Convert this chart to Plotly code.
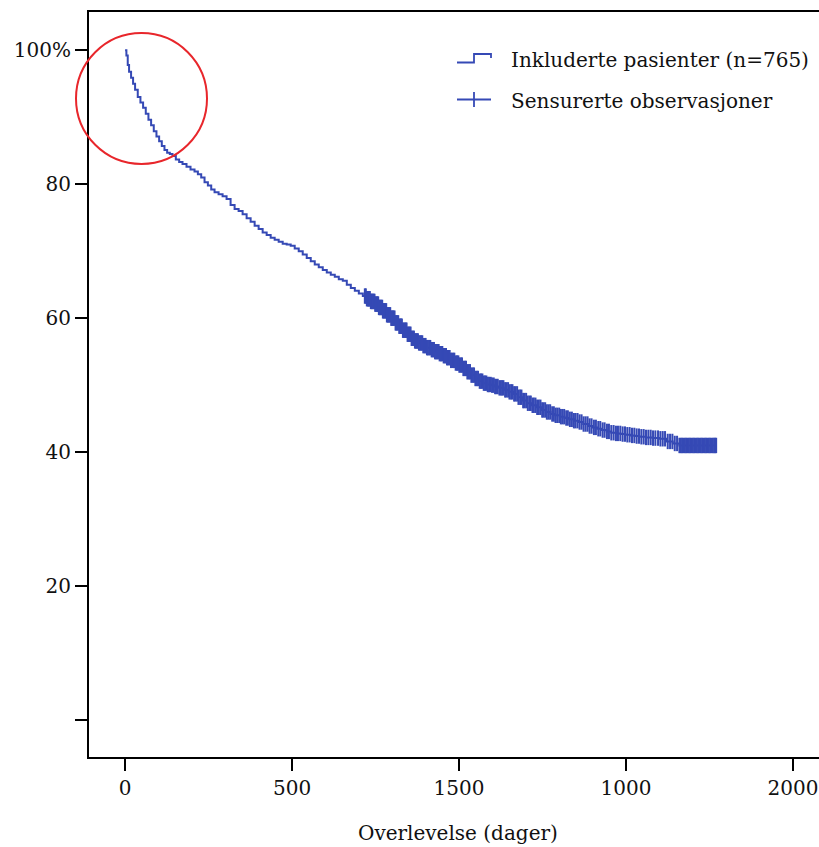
import numpy as np
import plotly.graph_objects as go

# ---- data ----
km_days = [0, 4, 8, 12, 18, 24, 30, 38, 46, 54, 62, 70, 78, 86, 94, 102, 110, 118, 126, 134,
           142, 152, 162, 172, 184, 196, 208, 218, 228, 238, 248, 258, 268, 280, 292, 304, 316,
           328, 340, 352, 364, 376, 388, 400, 412, 424, 436, 448, 460, 472, 484, 496, 508, 520,
           532, 544, 556, 568, 580, 592, 604, 616, 628, 640, 652, 664, 676, 688, 700, 712, 724,
           736, 748, 760, 772, 784, 796, 808, 820, 832, 844, 856, 868, 880, 892, 904, 916, 928,
           940, 952, 964, 976, 988, 1000, 1012, 1024, 1036, 1048, 1060, 1072, 1084, 1096, 1108,
           1120, 1134, 1148, 1162, 1176, 1190, 1204, 1218, 1232, 1246, 1260, 1274, 1288, 1302,
           1316, 1330, 1344, 1358, 1372, 1386, 1400, 1414, 1428, 1442, 1456, 1470, 1484, 1498,
           1512, 1526, 1540, 1560, 1580, 1600, 1620, 1640, 1660, 1772]
km_surv = [100, 99.2, 97.8, 96.8, 95.9, 95.0, 94.1, 93.0, 92.2, 91.4, 90.5, 89.6, 88.8, 87.9,
           87.1, 86.4, 85.7, 85.1, 84.7, 84.5, 84.2, 83.7, 83.3, 83.0, 82.6, 82.2, 81.9, 81.5,
           81.0, 80.3, 79.8, 79.2, 78.8, 78.5, 78.2, 77.8, 76.9, 76.3, 76.0, 75.5, 74.9, 74.4,
           73.8, 73.3, 72.8, 72.4, 72.0, 71.7, 71.4, 71.1, 71.0, 70.8, 70.4, 70.0, 69.5, 69.0,
           68.5, 68.0, 67.6, 67.2, 66.8, 66.5, 66.2, 65.8, 65.6, 65.0, 64.5, 64.1, 63.7, 63.3,
           62.9, 62.5, 62.1, 61.6, 61.1, 60.5, 60.0, 59.3, 58.8, 58.2, 57.6, 57.0, 56.6, 56.3,
           55.9, 55.6, 55.3, 55.0, 54.7, 54.4, 54.1, 53.7, 53.3, 53.0, 52.5, 52.0, 51.5, 51.0,
           50.6, 50.3, 50.1, 50.0, 49.8, 49.6, 49.3, 49.0, 48.7, 48.2, 47.7, 47.3, 47.0, 46.7,
           46.3, 46.0, 45.7, 45.5, 45.3, 45.1, 44.9, 44.7, 44.5, 44.2, 43.9, 43.7, 43.5, 43.3,
           43.1, 42.9, 42.8, 42.7, 42.6, 42.5, 42.4, 42.3, 42.2, 42.1, 42.0, 41.6, 41.3, 41.0,
           41.0]
censor_days = [718, 721, 724, 727, 729, 731, 733, 736, 738, 740, 742, 745, 747, 749, 751, 754,
               756, 758, 760, 763, 765, 768, 770, 772, 774, 777, 779, 782, 784, 787, 789, 792,
               794, 797, 799, 802, 804, 807, 810, 812, 815, 818, 821, 824, 826, 829, 832, 835,
               838, 841, 843, 846, 849, 852, 855, 858, 861, 865, 868, 871, 874, 877, 880, 884,
               887, 890, 893, 897, 900, 904, 907, 911, 914, 918, 921, 925, 928, 932, 935, 939,
               942, 946, 950, 954, 957, 961, 964, 968, 972, 976, 979, 983, 986, 990, 994, 998,
               1001, 1005, 1009, 1013, 1017, 1021, 1025, 1029, 1033, 1037, 1041, 1045, 1049,
               1053, 1057, 1062, 1066, 1070, 1074, 1078, 1082, 1086, 1090, 1095, 1099, 1104,
               1108, 1112, 1116, 1121, 1125, 1129, 1133, 1138, 1142, 1147, 1151, 1156, 1160,
               1165, 1169, 1174, 1178, 1183, 1187, 1192, 1196, 1201, 1206, 1211, 1215, 1220,
               1224, 1229, 1234, 1239, 1244, 1249, 1253, 1258, 1263, 1268, 1273, 1279, 1284,
               1289, 1294, 1300, 1305, 1310, 1315, 1321, 1326, 1332, 1338, 1344, 1349, 1355,
               1361, 1367, 1373, 1379, 1385, 1391, 1397, 1404, 1410, 1417, 1423, 1430, 1436,
               1443, 1449, 1456, 1463, 1470, 1476, 1483, 1490, 1497, 1504, 1511, 1518, 1525,
               1532, 1539, 1546, 1553, 1560, 1567, 1574, 1581, 1588, 1596, 1603, 1610, 1617,
               1625, 1632, 1639, 1646, 1653, 1660, 1664, 1668, 1672, 1676, 1680, 1684, 1688,
               1692, 1696, 1700, 1704, 1708, 1712, 1716, 1720, 1724, 1728, 1732, 1736, 1740,
               1744, 1748, 1752, 1756, 1760, 1764, 1767, 1770]

x_tickvals = [0, 500, 1000, 1500, 2000]
x_ticktext = ["0", "500", "1500", "1000", "2000"]
y_tickvals = [0, 20, 40, 60, 80, 100]
y_ticktext = ["", "20", "40", "60", "80", "100%"]

legend_labels = ["Inkluderte pasienter (n=765)", "Sensurerte observasjoner"]
x_title = "Overlevelse (dager)"

# survival value at each censored time (step lookup on the KM curve)
kd = np.array(km_days)
ks = np.array(km_surv)
idx = np.searchsorted(kd, np.array(censor_days), side="right") - 1
censor_surv = ks[idx]

BLUE = "#3549b5"
FONT = "DejaVu Serif"
FS = 20

fig = go.Figure()
fig.add_trace(go.Scatter(x=km_days, y=km_surv, mode="lines", line_shape="hv",
                         line=dict(color=BLUE, width=2), showlegend=False, hoverinfo="skip"))
fig.add_trace(go.Scatter(x=censor_days, y=censor_surv, mode="markers",
                         marker=dict(symbol="line-ns", size=11, line=dict(color=BLUE, width=2)),
                         showlegend=False, hoverinfo="skip"))

# plot area pixel geometry helpers
L, T, R, B = 89, 12, 819, 757
W, H = R - L, B - T
def px(x):
    return (x - L) / W
def py(y):
    return (B - y) / H

shapes = []
# legend icons
shapes.append(dict(type="path", xref="paper", yref="paper",
                   path=f"M {px(457)} {py(62.5)} L {px(474)} {py(62.5)} L {px(474)} {py(54)} "
                        f"L {px(491)} {py(54)} L {px(491)} {py(58)}",
                   line=dict(color=BLUE, width=1.8)))
shapes.append(dict(type="line", xref="paper", yref="paper",
                   x0=px(457), x1=px(491), y0=py(99.5), y1=py(99.5),
                   line=dict(color=BLUE, width=1.8)))
shapes.append(dict(type="line", xref="paper", yref="paper",
                   x0=px(474), x1=px(474), y0=py(92), y1=py(107),
                   line=dict(color=BLUE, width=1.8)))
# red highlight circle (paper-anchored so it is not clipped by the axis)
shapes.append(dict(type="circle", xref="paper", yref="paper", xsizemode="pixel", ysizemode="pixel",
                   xanchor=px(141.5), yanchor=py(98.5), x0=-65.5, x1=65.5, y0=-65.5, y1=65.5,
                   line=dict(color="#e8262b", width=2)))

annotations = [
    dict(xref="paper", yref="paper", x=px(509), y=py(60), text=legend_labels[0],
         showarrow=False, xanchor="left", yanchor="middle", font=dict(family=FONT, size=FS, color="#111")),
    dict(xref="paper", yref="paper", x=px(509), y=py(101), text=legend_labels[1],
         showarrow=False, xanchor="left", yanchor="middle", font=dict(family=FONT, size=FS, color="#111")),
    dict(xref="paper", yref="paper", x=px(458), y=py(833), text=x_title,
         showarrow=False, xanchor="center", yanchor="middle", font=dict(family=FONT, size=FS, color="#111")),
]

fig.update_layout(
    width=819, height=847,
    margin=dict(l=L, r=0, t=T, b=847 - B, pad=0),
    plot_bgcolor="white", paper_bgcolor="white",
    font=dict(family=FONT, size=FS, color="#111"),
    shapes=shapes, annotations=annotations,
    showlegend=False,
)
fig.update_xaxes(range=[-108, 2078], tickvals=x_tickvals, ticktext=x_ticktext,
                 showline=True, linecolor="black", linewidth=2, mirror=True,
                 ticks="outside", ticklen=12, tickwidth=2, tickcolor="black",
                 showgrid=False, zeroline=False)
fig.update_yaxes(range=[-5.5, 105.7], tickvals=y_tickvals, ticktext=y_ticktext,
                 showline=True, linecolor="black", linewidth=2, mirror=False,
                 ticks="outside", ticklen=12, tickwidth=2, tickcolor="black",
                 showgrid=False, zeroline=False)

fig.write_html("out.html")
